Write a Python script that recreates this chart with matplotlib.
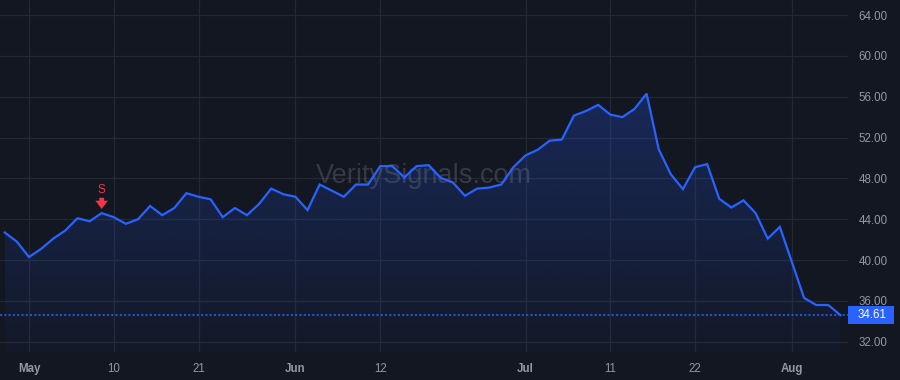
import matplotlib
matplotlib.use("Agg")
import matplotlib.pyplot as plt
import numpy as np
import pandas as pd
from matplotlib.patches import Rectangle

# trading days Apr 29 - Aug 7 2024 (US holidays removed)
HOLIDAYS = ["2024-05-27", "2024-06-19", "2024-07-04"]
DATES = pd.bdate_range("2024-04-29", "2024-08-07").drop(pd.to_datetime(HOLIDAYS))

PRICES = [
    42.7, 41.8, 40.3, 41.1, 42.1, 42.9, 44.1, 43.8, 44.6, 44.2,
    43.55, 44.0, 45.3, 44.4, 45.1, 46.55, 46.2, 45.95, 44.2, 45.1,
    44.4, 45.5, 47.0, 46.45, 46.2, 44.9, 47.4, 46.8, 46.2, 47.4,
    47.4, 49.2, 49.2, 48.1, 49.2, 49.3, 48.05, 47.6, 46.3, 47.0,
    47.1, 47.4, 49.1, 50.25, 50.8, 51.7, 51.8, 54.15, 54.6, 55.2,
    54.25, 54.0, 54.8, 56.3, 50.85, 48.4, 46.95, 49.1, 49.4, 46.0,
    45.15, 45.85, 44.6, 42.1, 43.25, 39.8, 36.3, 35.6, 35.6, 34.61,
]

TICK_DATES = ["2024-05-01", "2024-05-10", "2024-05-21", "2024-06-03", "2024-06-12",
              "2024-07-01", "2024-07-11", "2024-07-22", "2024-08-01"]
TICK_LABELS = ["May", "10", "21", "Jun", "12", "Jul", "11", "22", "Aug"]
MONTH_TICKS = {"May", "Jun", "Jul", "Aug"}

Y_TICKS = [32, 36, 40, 44, 48, 52, 56, 60, 64]

SIGNAL_DATE = "2024-05-09"
SIGNAL_TEXT = "S"
LAST_PRICE = PRICES[-1]

BG = "#131722"
GRID = "#242833"
TEXT = "#9598a1"
BLUE = "#2962ff"
RED = "#f23645"


def main():
    assert len(DATES) == len(PRICES)
    plt.rcParams["font.family"] = ["Liberation Sans", "DejaVu Sans"]

    fig = plt.figure(figsize=(9, 3.8), dpi=100, facecolor=BG)
    ax = fig.add_axes([0, 0.0737, 848 / 900, 0.9263])
    ax.set_facecolor(BG)

    x = np.arange(len(PRICES))
    y = np.array(PRICES)
    ymin, ymax = 31.0, 65.47
    ax.set_xlim(-0.395, 69.63)
    ax.set_ylim(ymin, ymax)

    # gradient area under the line
    fill = ax.fill_between(x, y, ymin, facecolor="none", edgecolor="none")
    grad = np.linspace(0.03, 0.25, 256).reshape(-1, 1)
    rgba = np.zeros((256, 1, 4))
    rgba[..., 0], rgba[..., 1], rgba[..., 2] = 41 / 255, 98 / 255, 1.0
    rgba[..., 3] = grad
    img = ax.imshow(rgba, extent=[x[0], x[-1], ymin, 57], origin="lower",
                    aspect="auto", zorder=1)
    img.set_clip_path(fill.get_paths()[0], transform=ax.transData)

    ax.plot(x, y, color=BLUE, lw=1.6, zorder=3, solid_joinstyle="miter")

    # last price line + label
    ax.axhline(LAST_PRICE, color=BLUE, lw=1.1, ls=(0, (1.4, 1.4)), zorder=2)
    tr = ax.get_yaxis_transform()
    ax.add_patch(Rectangle((1.0, LAST_PRICE - 0.85), 46 / 848, 1.7, transform=tr,
                           facecolor=BLUE, edgecolor="none", clip_on=False, zorder=5))
    ax.text(1.0 + 10 / 848, LAST_PRICE, f"{LAST_PRICE:.2f}", transform=tr,
            color="white", fontsize=8.3, va="center", ha="left", clip_on=False, zorder=6)

    # sell signal
    si = list(DATES).index(pd.Timestamp(SIGNAL_DATE))
    ax.annotate("", xy=(si, 45.0), xytext=(si, 46.1),
                arrowprops=dict(arrowstyle="simple,head_width=0.9,head_length=0.6,tail_width=0.35",
                                color=RED, lw=0, shrinkA=0, shrinkB=0), zorder=4)
    ax.text(si, 46.9, SIGNAL_TEXT, color=RED, fontsize=8.5, ha="center", va="center", zorder=4)

    # watermark
    ax.text(0.5, 0.5, "VeritySignals.com", transform=ax.transAxes, fontsize=19.5,
            color="#787b86", alpha=0.34, ha="center", va="center", zorder=2)

    # axes, ticks, grid
    pos = [list(DATES).index(pd.Timestamp(d)) for d in TICK_DATES]
    ax.set_xticks(pos)
    ax.set_xticklabels(TICK_LABELS)
    for lbl in ax.get_xticklabels():
        if lbl.get_text() in MONTH_TICKS:
            lbl.set_fontweight("bold")
    ax.set_yticks(Y_TICKS)
    ax.set_yticklabels([f"{v:.2f}" for v in Y_TICKS])
    ax.yaxis.tick_right()
    ax.tick_params(axis="both", length=0, colors=TEXT, labelsize=8.3)
    ax.tick_params(axis="x", pad=8)
    ax.tick_params(axis="y", pad=7.5)
    ax.grid(True, color=GRID, lw=0.9)
    ax.set_axisbelow(True)
    for s in ax.spines.values():
        s.set_visible(False)

    fig.savefig("out.png", dpi=100, facecolor=BG)


if __name__ == "__main__":
    main()
